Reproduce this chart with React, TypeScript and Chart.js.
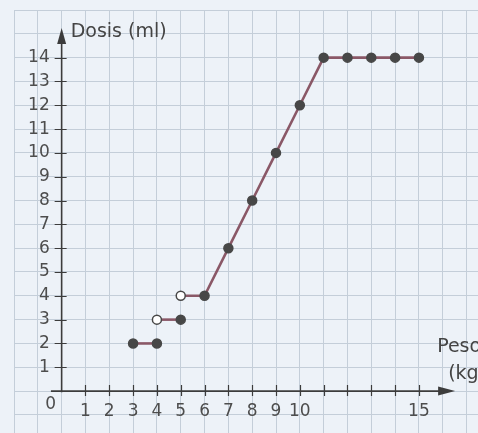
import React, { useEffect, useRef } from "react";
import { Chart, registerables } from "chart.js";

Chart.register(...registerables);

// ---- data ----
const pesoKg = [3, 4, 4, 5, 5, 6, 7, 8, 9, 10, 11, 12, 13, 14, 15];
const dosisMl = [2, 2, 3, 3, 4, 4, 6, 8, 10, 12, 14, 14, 14, 14, 14];
const puntoAbierto = [false, false, true, false, true, false, false, false, false, false, false, false, false, false, false];
const tramoInicio = [0, 2, 4];

const xTickLabels = [1, 2, 3, 4, 5, 6, 7, 8, 9, 10, 15];
const yTickLabels = [1, 2, 3, 4, 5, 6, 7, 8, 9, 10, 11, 12, 13, 14];
const xTickMarks = [1, 2, 3, 4, 5, 6, 7, 8, 9, 10, 11, 12, 13, 14, 15];
const yTickMarks = [1, 2, 3, 4, 5, 6, 7, 8, 9, 10, 11, 12, 13, 14];
const originLabel = "0";
const yTitle = "Dosis (ml)";
const xTitle = ["Peso", "(kg)"];

// ---- view ----
const X_MIN = -2;
const X_MAX = 17.48;
const Y_MIN = -1.76;
const Y_MAX = 16;
const X_AXIS_FROM = -0.45;
const X_AXIS_TO = 16.52;
const Y_AXIS_FROM = -0.05;
const Y_AXIS_TO = 15.24;
const Y_LABEL_AT = -0.5;

const BG = "#edf2f8";
const GRID = "#c4ced9";
const AXIS = "#3c3c3c";
const TEXT = "#4d4d4d";
const LINE = "#8a5867";
const DOT = "#474747";
const FONT = "'DejaVu Sans', sans-serif";

const decor = {
  id: "decor",
  beforeDatasetsDraw(chart: any) {
    const { ctx } = chart;
    const xs = chart.scales.x;
    const ys = chart.scales.y;
    const X = (v: number) => xs.getPixelForValue(v);
    const Y = (v: number) => ys.getPixelForValue(v);
    const x0 = X(0);
    const y0 = Y(0);
    ctx.save();
    ctx.strokeStyle = AXIS;
    ctx.fillStyle = AXIS;
    ctx.lineWidth = 1.6;
    // x axis
    const xTip = X(X_AXIS_TO);
    ctx.beginPath();
    ctx.moveTo(X(X_AXIS_FROM), y0);
    ctx.lineTo(xTip - 12, y0);
    ctx.stroke();
    ctx.beginPath();
    ctx.moveTo(xTip, y0);
    ctx.lineTo(xTip - 17, y0 - 4.5);
    ctx.lineTo(xTip - 17, y0 + 4.5);
    ctx.closePath();
    ctx.fill();
    // y axis
    const yTip = Y(Y_AXIS_TO);
    ctx.beginPath();
    ctx.moveTo(x0, Y(Y_AXIS_FROM));
    ctx.lineTo(x0, yTip + 10);
    ctx.stroke();
    ctx.beginPath();
    ctx.moveTo(x0, yTip);
    ctx.lineTo(x0 - 4.5, yTip + 16);
    ctx.lineTo(x0 + 4.5, yTip + 16);
    ctx.closePath();
    ctx.fill();
    // tick marks
    ctx.lineWidth = 1.2;
    ctx.beginPath();
    xTickMarks.forEach((v) => {
      const px = Math.round(X(v)) + 0.5;
      ctx.moveTo(px, y0 - 6);
      ctx.lineTo(px, y0 + 5);
    });
    yTickMarks.forEach((v) => {
      const py = Math.round(Y(v)) + 0.5;
      ctx.moveTo(x0 - 7, py);
      ctx.lineTo(x0 + 5, py);
    });
    ctx.stroke();
    // origin label
    ctx.fillStyle = TEXT;
    ctx.font = `17px ${FONT}`;
    ctx.textAlign = "center";
    ctx.textBaseline = "middle";
    ctx.fillText(originLabel, x0 - 11, y0 + 13);
    // titles
    ctx.textAlign = "left";
    ctx.textBaseline = "alphabetic";
    ctx.font = `19px ${FONT}`;
    ctx.fillStyle = "#444";
    ctx.fillText(yTitle, x0 + 9, yTip + 9);
    ctx.fillText(xTitle[0], xTip - 18, y0 - 39);
    ctx.fillText(xTitle[1], xTip - 7, y0 - 12);
    ctx.restore();
  },
};

function zeroPad(s: any) {
  s.paddingTop = 0;
  s.paddingBottom = 0;
  s.paddingLeft = 0;
  s.paddingRight = 0;
}

export default function App() {
  const ref = useRef<HTMLCanvasElement | null>(null);

  useEffect(() => {
    if (!ref.current) return;
    const datasets = tramoInicio.map((start, k) => {
      const end = k + 1 < tramoInicio.length ? tramoInicio[k + 1] : pesoKg.length;
      const idx: number[] = [];
      for (let i = start; i < end; i++) idx.push(i);
      return {
        data: idx.map((i) => ({ x: pesoKg[i], y: dosisMl[i] })),
        borderColor: LINE,
        borderWidth: 2.6,
        pointRadius: 4.5,
        pointBorderWidth: 1.5,
        pointBorderColor: DOT,
        pointBackgroundColor: idx.map((i) => (puntoAbierto[i] ? "#ffffff" : DOT)),
        tension: 0,
        fill: false,
        clip: false as any,
      };
    });

    const chart = new Chart(ref.current, {
      type: "line",
      data: { datasets },
      plugins: [decor],
      options: {
        animation: false,
        responsive: true,
        maintainAspectRatio: false,
        events: [],
        layout: { autoPadding: false, padding: { left: 14, top: 10, right: 0, bottom: 0 } },
        plugins: { legend: { display: false }, tooltip: { enabled: false } },
        scales: {
          x: {
            type: "linear",
            min: X_MIN,
            max: X_MAX,
            position: { y: 0 } as any,
            afterFit: zeroPad,
            border: { display: false },
            grid: { color: GRID, lineWidth: 1, drawTicks: false },
            ticks: {
              stepSize: 1,
              includeBounds: false,
              autoSkip: false,
              maxRotation: 0,
              padding: 10,
              color: TEXT,
              font: { family: FONT, size: 17 },
              callback: (v: any) => (xTickLabels.includes(Number(v)) ? String(v) : ""),
            },
          },
          y: {
            type: "linear",
            min: Y_MIN,
            max: Y_MAX,
            position: { x: Y_LABEL_AT } as any,
            afterFit: zeroPad,
            border: { display: false },
            grid: { color: GRID, lineWidth: 1, drawTicks: false },
            ticks: {
              stepSize: 1,
              includeBounds: false,
              autoSkip: false,
              padding: 0,
              color: TEXT,
              font: { family: FONT, size: 17 },
              callback: (v: any) => (yTickLabels.includes(Number(v)) ? String(v) : ""),
            },
          },
        },
      },
    });
    return () => chart.destroy();
  }, []);

  return (
    <div
      style={{
        position: "fixed",
        left: 0,
        top: 0,
        width: 478,
        height: 433,
        background: BG,
        overflow: "hidden",
      }}
    >
      <canvas ref={ref} />
    </div>
  );
}
